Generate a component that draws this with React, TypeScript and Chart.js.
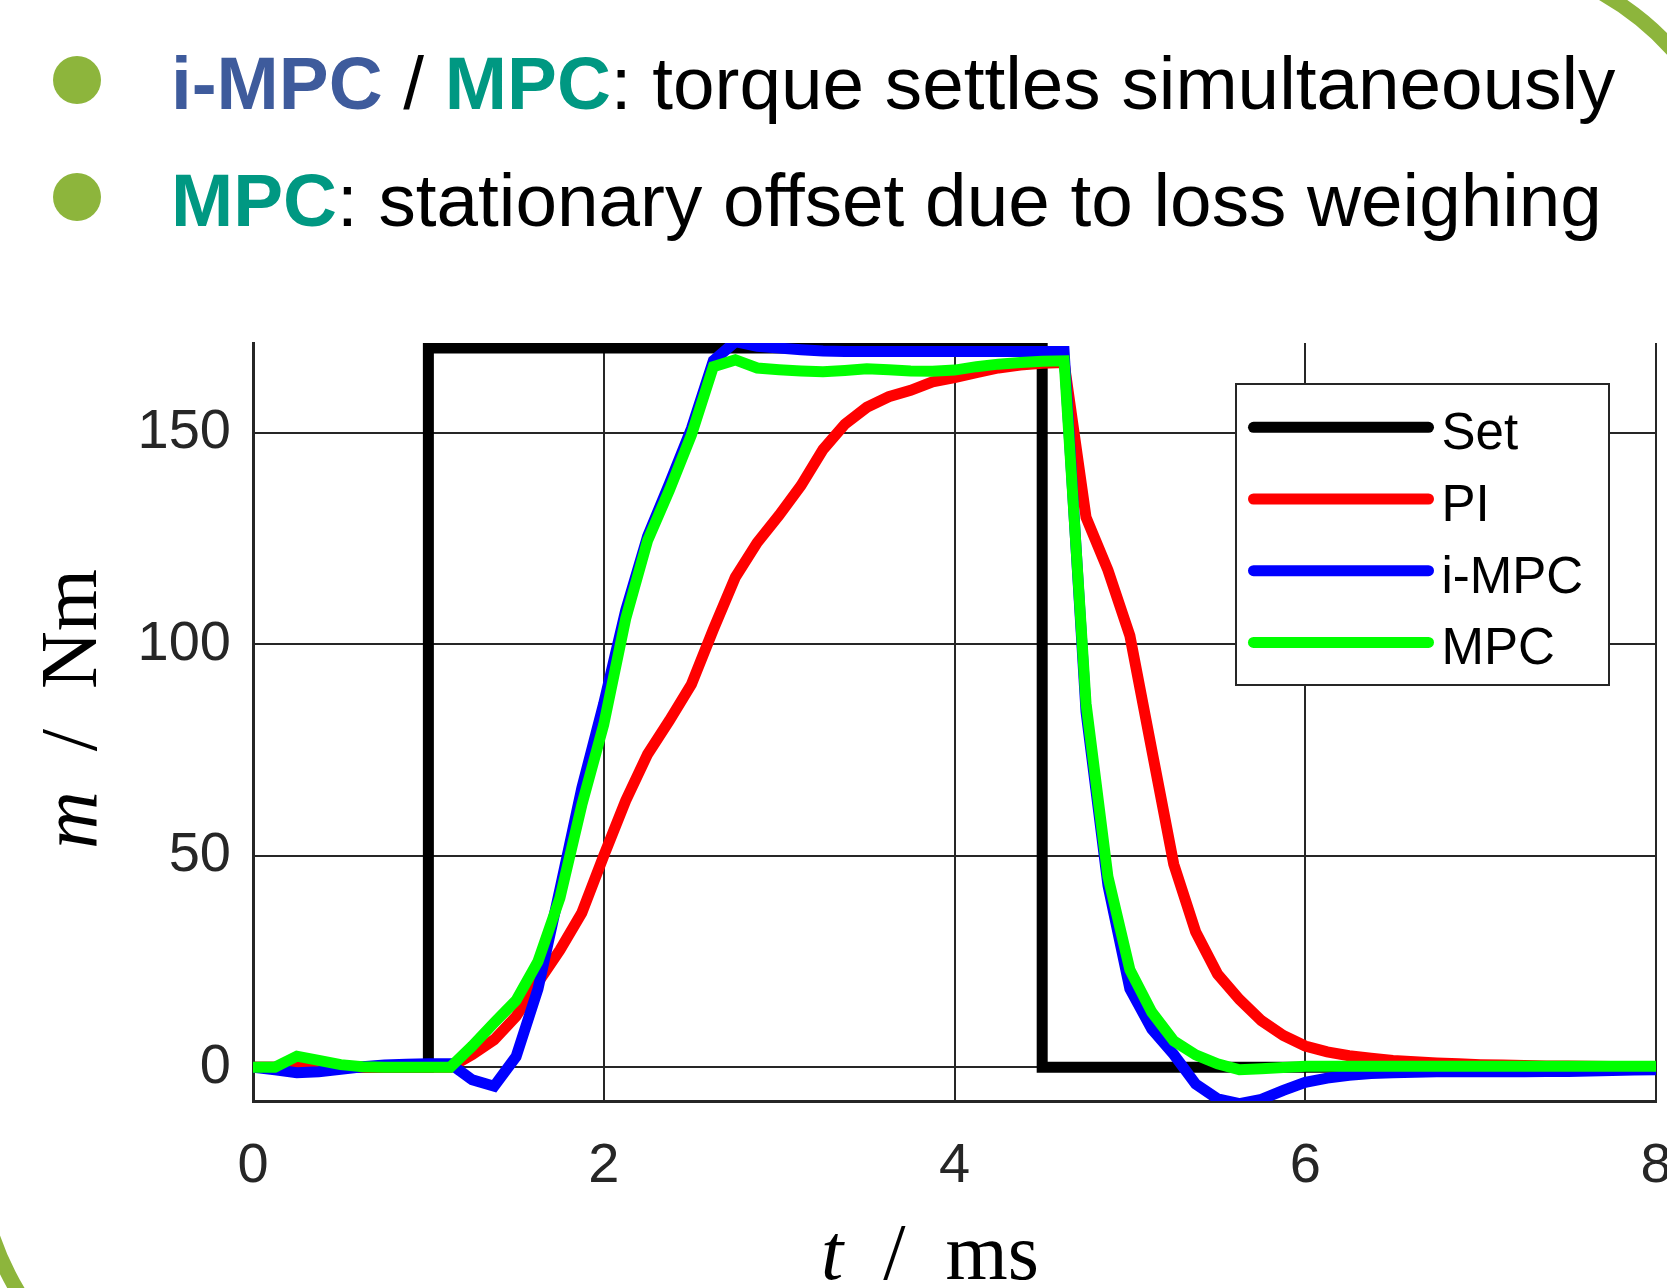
import React, { useEffect, useRef } from "react";
import { Chart, registerables } from "chart.js";

Chart.register(...registerables);

// ---- data (time in ms, torque in Nm) ----
const timeMs = [
  0, 0.125, 0.25, 0.375, 0.5, 0.625, 0.75, 0.875,
  1, 1.125, 1.25, 1.375, 1.5, 1.625, 1.75, 1.875,
  2, 2.125, 2.25, 2.375, 2.5, 2.625, 2.75, 2.875,
  3, 3.125, 3.25, 3.375, 3.5, 3.625, 3.75, 3.875,
  4, 4.125, 4.25, 4.375, 4.5, 4.625, 4.75, 4.875,
  5, 5.125, 5.25, 5.375, 5.5, 5.625, 5.75, 5.875,
  6, 6.125, 6.25, 6.375, 6.5, 6.625, 6.75, 6.875,
  7, 7.125, 7.25, 7.375, 7.5, 7.625, 7.75, 7.875,
  8,
];

const setTimes = [0, 1, 4.5, 8];
const setValues = [0, 170, 0, 0];

const piValues = [
  0, 0, 0, 0, 0, 0, 0, 0,
  0, 0, 3, 6.5, 12, 20, 27.7, 36.5,
  50, 63, 74, 82, 90.5, 103.5, 115.8, 124,
  130.5, 137.5, 146, 152, 156, 158.5, 160, 162,
  163, 164.2, 165.3, 166, 166.4, 166.6, 130, 117.5,
  102, 75, 48, 32, 22, 16, 11, 7.5,
  5, 3.6, 2.7, 2.1, 1.6, 1.3, 1.0, 0.8,
  0.6, 0.5, 0.4, 0.3, 0.25, 0.2, 0.15, 0.1,
  0.1,
];

const iMpcValues = [
  0, -0.6, -1.3, -1.1, -0.5, 0.1, 0.5, 0.7,
  0.8, 0.8, -3, -4.5, 2.5, 18.5, 42, 66,
  86, 108, 125.5, 138, 151, 167, 171.5, 170.4,
  170, 169.6, 169.3, 169.2, 169.2, 169.2, 169.2, 169.2,
  169.2, 169.2, 169.2, 169.2, 169.2, 169.2, 84, 43,
  18.5, 9, 3, -4, -7.5, -8.6, -7.6, -5.5,
  -3.6, -2.6, -1.9, -1.5, -1.3, -1.2, -1.1, -1.1,
  -1.1, -1.1, -1.1, -1.0, -1.0, -0.9, -0.8, -0.7,
  -0.6,
];

const mpcValues = [
  0, 0, 2.6, 1.6, 0.6, 0.1, 0, 0,
  0, 0, 5, 10.5, 15.8, 25, 40, 62,
  81, 106, 124.5, 136.5, 149.5, 165.6, 167.2, 165.3,
  164.9, 164.6, 164.4, 164.7, 165.1, 164.9, 164.6, 164.5,
  164.8, 165.6, 166.2, 166.6, 166.9, 167, 86, 45,
  23, 13, 6.2, 2.9, 0.8, -0.6, -0.4, -0.1,
  0.2, 0.2, 0.2, 0.2, 0.2, 0.2, 0.2, 0.2,
  0.2, 0.2, 0.2, 0.2, 0.2, 0.2, 0.2, 0.2,
  0.2,
];

const seriesNames = ["Set", "PI", "i-MPC", "MPC"];
const seriesColors = ["#000000", "#ff0000", "#0000ff", "#00ff00"];

const xTicks = [0, 2, 4, 6, 8];
const xTickLabels = ["0", "2", "4", "6", "8"];
const yTicks = [0, 50, 100, 150];
const yTickLabels = ["0", "50", "100", "150"];

const xRange = [0, 8];
const yRange = [-8, 171.2];

const SANS = "'Liberation Sans', Arial, Helvetica, sans-serif";
const SERIF = "'Liberation Serif', 'Times New Roman', serif";
const AXIS_GREY = "#262626";
const LINE_W = 11;

const overlayPlugin = {
  id: "overlayPlugin",
  afterDraw(chart: any) {
    const ctx: CanvasRenderingContext2D = chart.ctx;
    ctx.save();

    // legend box
    const lx = 1236;
    const ly = 84;
    const lw = 373;
    const lh = 301;
    ctx.fillStyle = "#ffffff";
    ctx.fillRect(lx, ly, lw, lh);
    ctx.strokeStyle = AXIS_GREY;
    ctx.lineWidth = 2;
    ctx.strokeRect(lx, ly, lw, lh);
    chart.data.datasets.forEach((ds: any, i: number) => {
      const y = ly + 43.3 + i * 71.7;
      ctx.beginPath();
      ctx.moveTo(lx + 17.5, y);
      ctx.lineTo(lx + 192.5, y);
      ctx.strokeStyle = ds.borderColor;
      ctx.lineWidth = LINE_W;
      ctx.lineCap = "round";
      ctx.stroke();
      ctx.fillStyle = "#000000";
      ctx.font = `51px ${SANS}`;
      ctx.textAlign = "left";
      ctx.textBaseline = "alphabetic";
      ctx.fillText(ds.label, lx + 205.5, y + 22);
    });

    // axis titles (italic symbol + upright unit)
    const titleSize = 80;
    const drawMixed = (sym: string, rest: string, cx: number, cy: number, rotate: boolean) => {
      ctx.save();
      ctx.translate(cx, cy);
      if (rotate) ctx.rotate(-Math.PI / 2);
      ctx.fillStyle = "#000000";
      ctx.textBaseline = "alphabetic";
      ctx.textAlign = "left";
      ctx.font = `italic ${titleSize}px ${SERIF}`;
      const w1 = ctx.measureText(sym).width;
      ctx.font = `${titleSize}px ${SERIF}`;
      const w2 = ctx.measureText(rest).width;
      const start = -(w1 + w2) / 2;
      ctx.font = `italic ${titleSize}px ${SERIF}`;
      ctx.fillText(sym, start, 0);
      ctx.font = `${titleSize}px ${SERIF}`;
      ctx.fillText(rest, start + w1, 0);
      ctx.restore();
    };
    drawMixed("m", "  /  Nm", 96, 409, true);
    drawMixed("t", "  /  ms", 930, 979, false);

    ctx.restore();
  },
};

function ChartCanvas() {
  const ref = useRef<HTMLCanvasElement | null>(null);
  useEffect(() => {
    if (!ref.current) return;
    const mk = (vals: number[]) => timeMs.map((t, i) => ({ x: t, y: vals[i] }));
    const lineStyle = (i: number, extra: any = {}) => ({
      label: seriesNames[i],
      borderColor: seriesColors[i],
      backgroundColor: seriesColors[i],
      borderWidth: LINE_W,
      pointRadius: 0,
      pointHoverRadius: 0,
      fill: false,
      tension: 0,
      borderCapStyle: "round",
      borderJoinStyle: "miter",
      order: 4 - i,
      ...extra,
    });
    const chart = new Chart(ref.current, {
      type: "line",
      data: {
        datasets: [
          lineStyle(0, {
            data: setTimes.map((t, i) => ({ x: t, y: setValues[i] })),
            stepped: "before",
          }),
          lineStyle(1, { data: mk(piValues) }),
          lineStyle(2, { data: mk(iMpcValues) }),
          lineStyle(3, { data: mk(mpcValues) }),
        ] as any,
      },
      options: {
        animation: false,
        responsive: false,
        maintainAspectRatio: false,
        devicePixelRatio: 1,
        layout: { padding: { top: 43, right: 11, left: 0, bottom: 0 } },
        plugins: {
          legend: { display: false },
          tooltip: { enabled: false },
          title: { display: false },
        },
        scales: {
          x: {
            type: "linear",
            min: xRange[0],
            max: xRange[1],
            afterBuildTicks: (scale: any) => {
              scale.ticks = xTicks.map((v) => ({ value: v }));
            },
            afterFit: (scale: any) => {
              scale.height = 187;
              scale.paddingLeft = 0;
              scale.paddingRight = 0;
            },
            ticks: {
              autoSkip: false,
              maxRotation: 0,
              padding: 32,
              color: AXIS_GREY,
              font: { family: SANS, size: 56 },
              callback: (v: any) => {
                const idx = xTicks.indexOf(Number(v));
                return idx >= 0 ? xTickLabels[idx] : "";
              },
            },
            grid: { color: AXIS_GREY, lineWidth: 2, drawTicks: false },
            border: { display: true, color: AXIS_GREY, width: 3 },
          },
          y: {
            type: "linear",
            min: yRange[0],
            max: yRange[1],
            afterBuildTicks: (scale: any) => {
              scale.ticks = yTicks.map((v) => ({ value: v }));
            },
            afterFit: (scale: any) => {
              scale.width = 253;
              scale.paddingTop = 0;
              scale.paddingBottom = 0;
            },
            ticks: {
              autoSkip: false,
              padding: 22,
              color: AXIS_GREY,
              font: { family: SANS, size: 56 },
              callback: (v: any) => {
                const idx = yTicks.indexOf(Number(v));
                return idx >= 0 ? yTickLabels[idx] : "";
              },
            },
            grid: { color: AXIS_GREY, lineWidth: 2, drawTicks: false },
            border: { display: true, color: AXIS_GREY, width: 3 },
          },
        },
      } as any,
      plugins: [overlayPlugin],
    });
    return () => chart.destroy();
  }, []);
  return (
    <canvas
      ref={ref}
      width={1667}
      height={988}
      style={{ position: "absolute", left: 0, top: 300, width: 1667, height: 988 }}
    />
  );
}

export default function App() {
  const lineStyle: React.CSSProperties = {
    position: "absolute",
    left: 171,
    fontSize: 74.7,
    lineHeight: 1,
    whiteSpace: "nowrap",
    color: "#000000",
    fontFamily: SANS,
  };
  const bullet: React.CSSProperties = {
    position: "absolute",
    left: 53,
    width: 48,
    height: 48,
    borderRadius: "50%",
    background: "#8DB53C",
  };
  return (
    <div
      style={{
        position: "absolute",
        left: 0,
        top: 0,
        width: 1667,
        height: 1288,
        background: "#ffffff",
        overflow: "hidden",
        fontFamily: SANS,
      }}
    >
      <svg
        width={1667}
        height={1288}
        style={{ position: "absolute", left: 0, top: 0, pointerEvents: "none" }}
      >
        <path d="M 1596.5 -10 A 285 285 0 0 1 1690 71" fill="none" stroke="#8DB53C" strokeWidth={15} />
        <path d="M -10 1229 A 290 290 0 0 0 23.2 1300" fill="none" stroke="#8DB53C" strokeWidth={15} />
      </svg>
      <div style={{ ...bullet, top: 56 }} />
      <div style={{ ...bullet, top: 173 }} />
      <div style={{ ...lineStyle, top: 46.4 }}>
        <span style={{ fontWeight: 700, color: "#3E5B9C" }}>i-MPC</span>
        {" / "}
        <span style={{ fontWeight: 700, color: "#009882" }}>MPC</span>
        {": torque settles simultaneously"}
      </div>
      <div style={{ ...lineStyle, top: 163.3 }}>
        <span style={{ fontWeight: 700, color: "#009882" }}>MPC</span>
        {": stationary offset due to loss weighing"}
      </div>
      <ChartCanvas />
    </div>
  );
}
